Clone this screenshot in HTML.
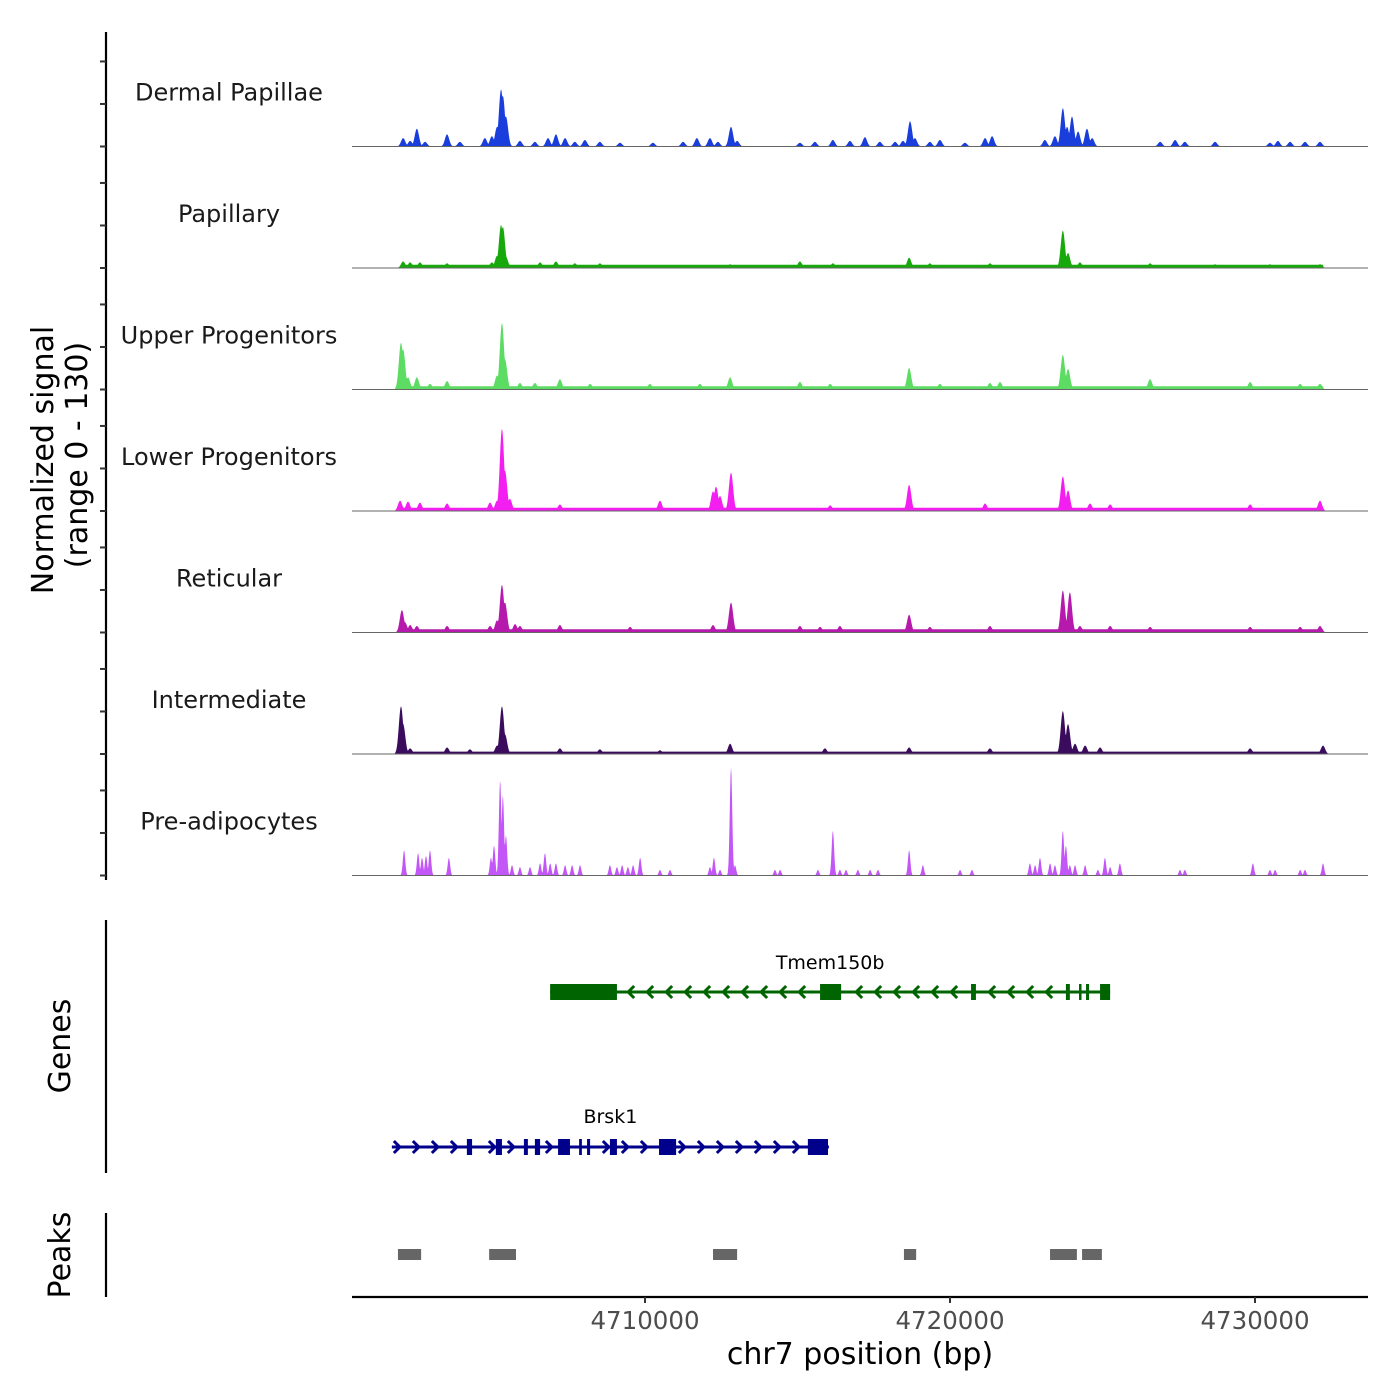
<!DOCTYPE html>
<html><head><meta charset="utf-8"><style>
html,body{margin:0;padding:0;background:#fff;width:1400px;height:1400px;overflow:hidden}
svg text{font-family:"DejaVu Sans","Liberation Sans",sans-serif}
</style></head><body>
<svg id="chart" xmlns="http://www.w3.org/2000/svg" width="1400" height="1400" viewBox="0 0 1400 1400">
<g id="axes"></g><g id="tracks"></g><g id="genes"></g><g id="peaks"></g>
</svg>
<script>
// ---- data (positions in kb on chr7, heights in normalized signal units 0-130) ----
const trackNames = ["Dermal Papillae","Papillary","Upper Progenitors","Lower Progenitors","Reticular","Intermediate","Pre-adipocytes"];
const trackColors = ["#1a3edb","#17a90b","#5cdc62","#f31ff0","#b61aad","#3b0c5e","#c356f6"];
const trackFloor = [0,3.5,3.5,3.5,3.5,2.5,0];
const floorStart = 4702.0, floorEnd = 4732.23;
const peaksDermal = [[4702.07,9],[4702.30,6],[4702.52,19],[4702.79,5],[4703.51,13],[4703.93,5],[4704.75,9],[4704.98,11],[4705.15,21],[4705.28,61],[4705.34,54],[4705.44,32],[4705.90,6],[4706.39,5],[4706.82,9],[4707.08,13],[4707.38,9],[4707.70,5],[4708.03,7],[4708.52,5],[4709.18,4],[4710.26,4],[4711.25,5],[4711.70,9],[4712.13,9],[4712.39,5],[4712.82,21],[4713.02,6],[4715.08,4],[4715.57,5],[4716.16,7],[4716.72,6],[4717.21,10],[4717.70,5],[4718.20,5],[4718.46,6],[4718.69,27],[4718.85,9],[4719.34,5],[4719.67,7],[4720.49,4],[4721.15,9],[4721.38,11],[4723.11,7],[4723.44,11],[4723.70,41],[4723.84,21],[4724.00,32],[4724.20,16],[4724.49,19],[4724.66,9],[4726.89,5],[4727.38,7],[4727.70,5],[4728.69,5],[4730.49,4],[4730.75,6],[4731.15,5],[4731.64,5],[4732.13,5]];
const peaksPapillary = [[4702.07,7],[4702.30,6],[4702.62,6],[4703.51,5],[4704.98,6],[4705.15,13],[4705.28,46],[4705.34,44],[4705.44,12],[4706.56,6],[4707.08,7],[4707.70,5],[4708.52,5],[4712.79,4],[4715.08,7],[4716.16,5],[4718.66,11],[4719.34,5],[4721.31,5],[4723.70,40],[4723.87,16],[4724.26,6],[4726.56,5],[4728.69,4],[4730.49,4],[4732.13,4]];
const peaksUpper = [[4702.00,50],[4702.07,43],[4702.23,13],[4702.52,13],[4702.95,6],[4703.51,9],[4705.15,15],[4705.31,71],[4705.41,32],[4705.90,7],[4706.39,7],[4707.21,11],[4708.20,6],[4710.16,6],[4711.80,6],[4712.79,13],[4715.08,8],[4716.07,6],[4718.66,23],[4719.67,6],[4721.31,7],[4721.64,8],[4723.70,37],[4723.87,22],[4726.56,11],[4729.84,8],[4731.48,6],[4732.13,6]];
const peaksLower = [[4701.97,11],[4702.23,10],[4702.62,9],[4703.51,8],[4704.92,9],[4705.15,11],[4705.31,88],[4705.41,43],[4705.57,13],[4707.21,7],[4710.49,11],[4712.23,21],[4712.33,26],[4712.46,16],[4712.82,41],[4716.07,6],[4718.66,28],[4721.15,8],[4723.70,37],[4723.87,22],[4724.59,8],[4725.25,7],[4729.84,7],[4732.13,11]];
const peaksReticular = [[4702.03,24],[4702.13,11],[4702.30,8],[4702.52,7],[4703.51,7],[4704.92,7],[4705.15,13],[4705.31,51],[4705.41,32],[4705.74,9],[4705.90,7],[4707.21,8],[4709.51,6],[4712.23,8],[4712.82,32],[4715.08,7],[4715.74,6],[4716.39,7],[4718.66,19],[4719.34,6],[4721.31,7],[4723.70,45],[4723.93,43],[4724.26,7],[4725.25,7],[4726.56,6],[4729.84,6],[4731.48,6],[4732.13,7]];
const peaksIntermediate = [[4702.00,51],[4702.07,32],[4702.30,6],[4703.51,7],[4704.26,5],[4705.15,9],[4705.31,51],[4705.41,21],[4707.21,6],[4708.52,5],[4710.49,4],[4712.79,11],[4715.90,6],[4718.66,7],[4721.31,6],[4723.70,46],[4723.87,32],[4724.10,11],[4724.43,9],[4724.92,7],[4729.84,6],[4732.23,9]];
const peaksPreadipo = [[4702.10,27],[4702.56,24],[4702.69,19],[4702.82,21],[4702.95,27],[4703.57,19],[4704.95,19],[4705.05,32],[4705.25,102],[4705.34,86],[4705.44,43],[4705.64,11],[4705.90,9],[4706.23,9],[4706.56,13],[4706.72,24],[4706.89,13],[4707.08,13],[4707.38,11],[4707.61,11],[4707.87,11],[4708.85,11],[4709.08,9],[4709.25,11],[4709.44,9],[4709.61,11],[4709.84,19],[4710.49,6],[4710.82,6],[4712.13,9],[4712.26,19],[4712.46,6],[4712.82,116],[4712.95,11],[4714.26,6],[4714.43,6],[4715.67,6],[4716.16,48],[4716.39,6],[4716.59,6],[4716.98,6],[4717.38,6],[4717.64,6],[4718.66,27],[4719.11,11],[4720.33,6],[4720.72,6],[4722.62,13],[4722.79,11],[4722.95,19],[4723.28,13],[4723.44,11],[4723.70,48],[4723.80,32],[4723.93,11],[4724.10,11],[4724.43,11],[4724.85,6],[4725.08,19],[4725.25,9],[4725.57,13],[4727.54,6],[4727.70,6],[4729.93,13],[4730.49,6],[4730.66,6],[4731.48,6],[4731.64,6],[4732.23,13]];
const trackPeaks = [peaksDermal,peaksPapillary,peaksUpper,peaksLower,peaksReticular,peaksIntermediate,peaksPreadipo];
const xTicks = [4710,4720,4730];
const xTickLabels = ["4710000","4720000","4730000"];
const tmemExons = [[4706.89,4709.08],[4715.74,4716.43],[4720.69,4720.85],[4723.80,4723.93],[4724.23,4724.30],[4724.46,4724.56],[4724.92,4725.25]];
const tmemSpan = [4706.89,4725.25];
const brskExons = [[4704.16,4704.33],[4705.11,4705.31],[4706.03,4706.16],[4706.39,4706.56],[4707.15,4707.54],[4707.84,4707.93],[4708.10,4708.20],[4708.85,4709.08],[4710.46,4711.02],[4715.34,4716.00]];
const brskSpan = [4701.70,4716.03];
const peakRegions = [[4701.90,4702.66],[4704.89,4705.77],[4712.23,4713.02],[4718.49,4718.89],[4723.28,4724.16],[4724.33,4724.98]];

// ---- scales ----
const NS="http://www.w3.org/2000/svg";
const X0=352, X1=1368;
function xs(kb){ return 645 + (kb-4710)*30.5; }
function xinv(px){ return 4710 + (px-645)/30.5; }
const trackH = 121.5, baseline0 = 146.5;
function ys(t, v){ return baseline0 + t*trackH - v*(trackH/130); }
function mk(tag, attrs, parent){ const e=document.createElementNS(NS,tag); for(const k in attrs) e.setAttribute(k,attrs[k]); parent.appendChild(e); return e; }
const axes=document.getElementById('axes'), tracksG=document.getElementById('tracks'), genesG=document.getElementById('genes'), peaksG=document.getElementById('peaks');

// left axis
let la = mk('line',{x1:106,y1:32,x2:106,y2:880,stroke:'#000','stroke-width':2.2},axes);
 
for(let t=0;t<7;t++){ for(const v of [0,45.5,91]){ const y=ys(t,v);
  const tk=mk('line',{x1:100,y1:y,x2:106,y2:y,stroke:'#333','stroke-width':2},axes);
    } }
function rotText(txt,x,y,size,name){ const e=mk('text',{x:0,y:0,transform:`translate(${x},${y}) rotate(-90)`,'text-anchor':'middle','font-size':size,fill:'#000'},axes); e.textContent=txt;
    return e; }
rotText('Normalized signal',53,460,30,'y-axis-title');
rotText('(range 0 - 130)',87,455,30,'y-axis-range');
rotText('Genes',70,1046,30,'genes-axis-title');
rotText('Peaks',70,1255,30,'peaks-axis-title');
let ga=mk('line',{x1:106,y1:920,x2:106,y2:1173,stroke:'#000','stroke-width':2.2},axes);
 
let pa=mk('line',{x1:106,y1:1213,x2:106,y2:1297,stroke:'#000','stroke-width':2.2},axes);
 

// x axis
let xa=mk('line',{x1:X0,y1:1297,x2:X1,y2:1297,stroke:'#000','stroke-width':2.2},axes);
 
xTicks.forEach((v,i)=>{ const x=xs(v);
  const tk=mk('line',{x1:x,y1:1297,x2:x,y2:1303,stroke:'#333','stroke-width':2},axes);
   
  const tl=mk('text',{x:x,y:1329,'text-anchor':'middle','font-size':24.5,fill:'#4d4d4d'},axes); tl.textContent=xTickLabels[i];
    });
let xt=mk('text',{x:860,y:1364,'text-anchor':'middle','font-size':30,fill:'#000'},axes); xt.textContent='chr7 position (bp)';
 

// tracks
for(let t=0;t<7;t++){
  const peaks=trackPeaks[t], sig = t===6?0.04:0.07;
  const base=ys(t,0);
  let pts=[`${X0},${base}`];
  for(let px=X0; px<=X1; px+=0.5){
    const kb=xinv(px); let v=0;
    if(kb>=floorStart && kb<=floorEnd) v=trackFloor[t];
    for(const p of peaks){ const d=(kb-p[0])/sig; if(Math.abs(d)<4){ const h=p[1]*Math.exp(-d*d/2); if(h>v) v=h; } }
    if(v<0.4) v=0;
    pts.push(`${px},${ys(t,v).toFixed(2)}`);
  }
  pts.push(`${X1},${base}`);
  const area=mk('polygon',{points:pts.join(' '),fill:trackColors[t],stroke:'none'},tracksG);
  
  
  const bl=mk('line',{x1:X0,y1:base,x2:X1,y2:base,stroke:'#666','stroke-width':1},tracksG);
   
  const lb=mk('text',{x:229,y:base-46,'text-anchor':'middle','font-size':24,fill:'#1a1a1a'},tracksG); lb.textContent=trackNames[t];
   
}

// genes
function drawGene(span, exons, y, color, dir, name, labelY){
  const g=mk('g',{},genesG);
   
  const x0=xs(span[0]), x1=xs(span[1]);
  mk('line',{x1:x0,y1:y,x2:x1,y2:y,stroke:color,'stroke-width':3},g);
  for(let x=x0+5; x<x1-4; x+=19){
    const inEx = exons.some(e=>x>=xs(e[0])-3 && x<=xs(e[1])+3);
    if(inEx) continue;
    const d = dir>0? `M${x-3},${y-6} L${x+3},${y} L${x-3},${y+6}` : `M${x+3},${y-6} L${x-3},${y} L${x+3},${y+6}`;
    const c=mk('path',{d:d,stroke:color,'stroke-width':3,fill:'none'},g);
     
  }
  exons.forEach(e=>{ const r=mk('rect',{x:xs(e[0]),y:y-8,width:Math.max(2.5,xs(e[1])-xs(e[0])),height:16,fill:color},g);
      });
  const l=mk('text',{x:(x0+x1)/2,y:labelY,'text-anchor':'middle','font-size':19,fill:'#000'},g); l.textContent=name;
   
}
drawGene(tmemSpan,tmemExons,992,'#006400',-1,'Tmem150b',969);
drawGene(brskSpan,brskExons,1147,'#00008b',1,'Brsk1',1123);

// peaks
peakRegions.forEach(p=>{ const r=mk('rect',{x:xs(p[0]),y:1249,width:xs(p[1])-xs(p[0]),height:11,fill:'#666'},peaksG);
    });
</script>
</body></html>
